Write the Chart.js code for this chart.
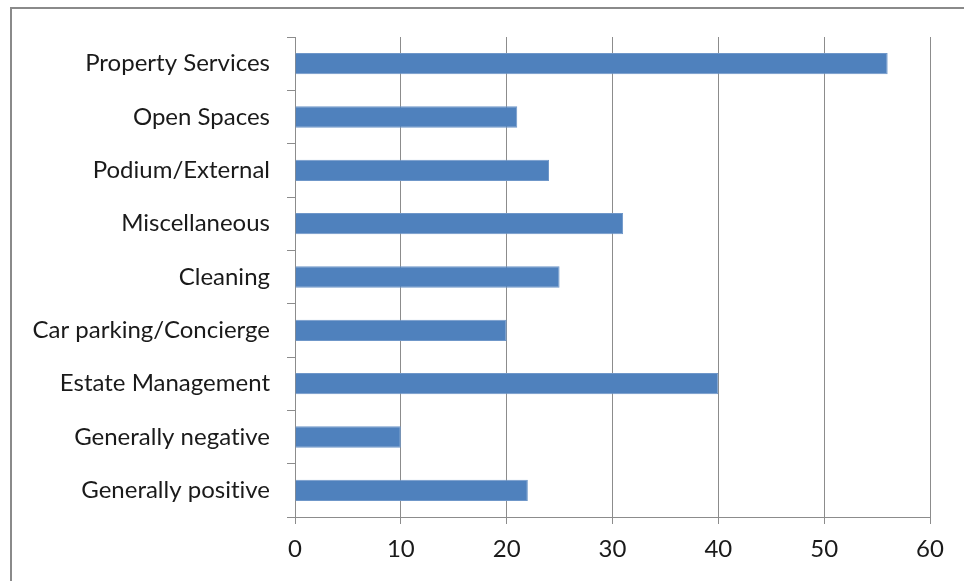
<!DOCTYPE html>
<html>
<head>
<meta charset="utf-8">
<title>Comments by category</title>
<script src="https://cdn.jsdelivr.net/npm/chart.js@4"></script>
<style>
  html, body { margin: 0; padding: 0; background: #fff; overflow: hidden; }
  #wrap { position: relative; width: 964px; height: 581px; }
  .frame {
    position: absolute; left: 10px; top: 7px;
    width: 2000px; height: 2000px;
    border: 2px solid #8a8a8a;
  }
  canvas { position: absolute; left: 0; top: 0; }
</style>
</head>
<body>
<div id="wrap">
  <div class="frame"></div>
  <canvas id="chart" width="964" height="581"></canvas>
</div>
<script>
// categories top to bottom, and number of comments in each
const categories = [
    'Property Services',
    'Open Spaces',
    'Podium/External',
    'Miscellaneous',
    'Cleaning',
    'Car parking/Concierge',
    'Estate Management',
    'Generally negative',
    'Generally positive'
];
const counts = [56, 21, 24, 31, 25, 20, 40, 10, 22];
const xTicks = [0, 10, 20, 30, 40, 50, 60];

const gridGrey = '#8c8c8c';
const labelFont = { family: 'Lato, Carlito, Calibri, sans-serif', size: 24 };

Chart.defaults.color = '#1a1a1a';
Chart.defaults.font = labelFont;

// keep "ti" / "fi" as separate letters in the labels
const noLigatures = {
    id: 'noLigatures',
    beforeDraw: (chart) => { chart.ctx.textRendering = 'optimizeSpeed'; }
};

const ctx = document.getElementById('chart').getContext('2d');
new Chart(ctx, {
    type: 'bar',
    data: {
        labels: categories,
        datasets: [{
            data: counts,
            backgroundColor: '#4f81bd',
            borderColor: '#6f97c9',
            borderWidth: 1,
            barPercentage: 0.8,
            categoryPercentage: 0.5
        }]
    },
    plugins: [noLigatures],
    options: {
        indexAxis: 'y',
        responsive: false,
        animation: false,
        layout: { padding: { top: 37, right: 34, bottom: 20, left: 0 } },
        plugins: {
            legend: { display: false },
            tooltip: { enabled: false }
        },
        scales: {
            x: {
                min: 0,
                max: 60,
                afterBuildTicks: (scale) => { scale.ticks = xTicks.map(v => ({ value: v })); },
                afterFit: (scale) => { scale.height = 44; },
                grid: {
                    color: gridGrey,
                    lineWidth: 1,
                    tickLength: 7
                },
                border: { color: gridGrey, width: 1 },
                ticks: { padding: 11, font: labelFont, maxRotation: 0 }
            },
            y: {
                afterFit: (scale) => { scale.width = 295; },
                grid: {
                    drawOnChartArea: false,
                    drawTicks: true,
                    tickLength: 8,
                    color: gridGrey,
                    offset: true
                },
                border: { color: gridGrey, width: 1 },
                ticks: { padding: 17, font: labelFont }
            }
        }
    }
});
</script>
</body>
</html>
